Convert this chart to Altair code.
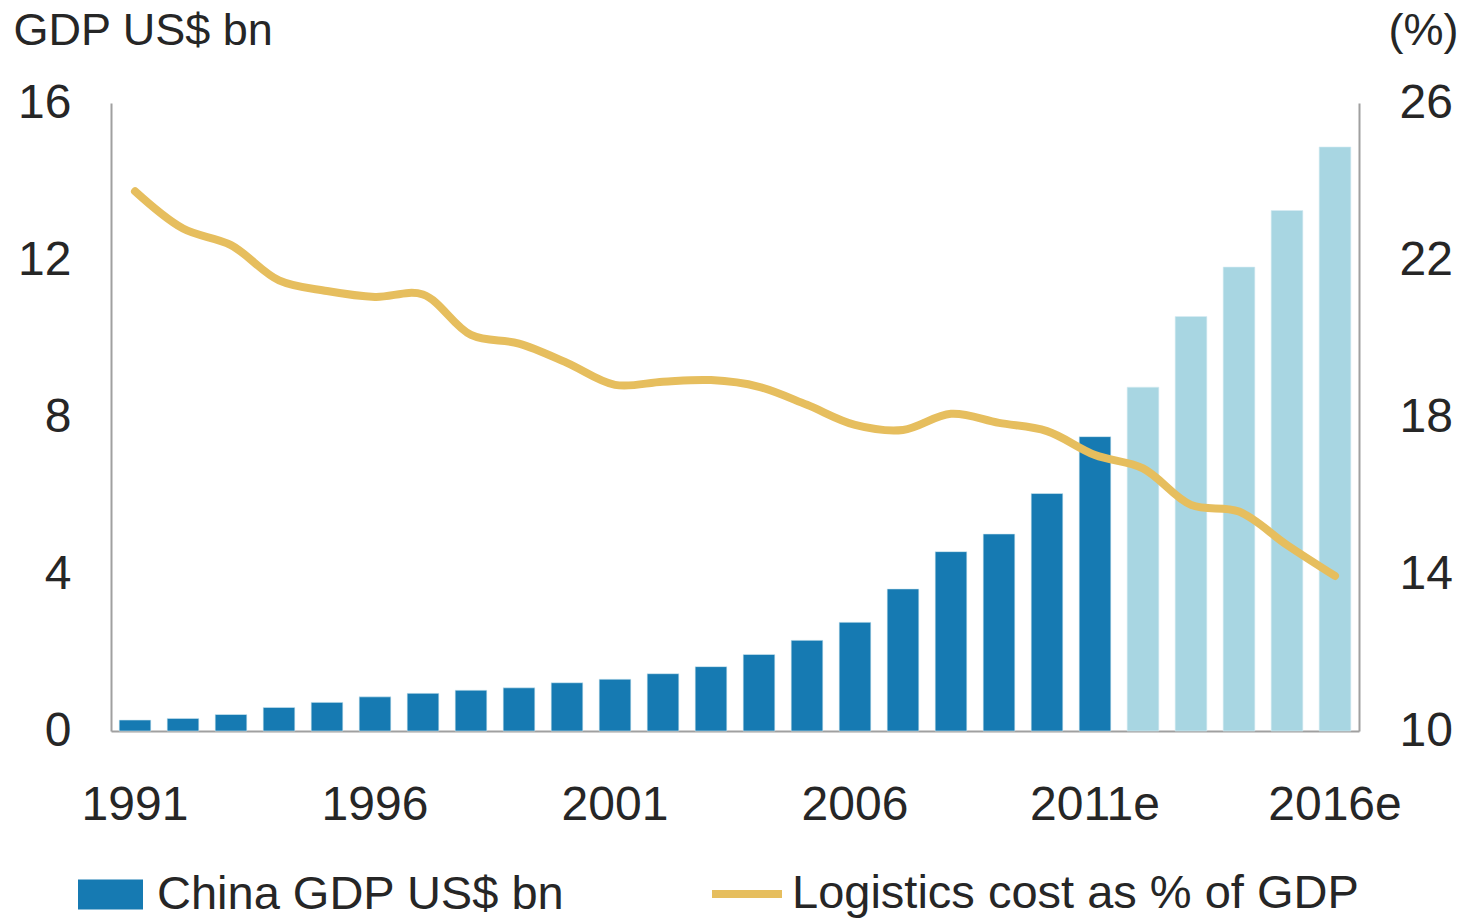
import altair as alt
import pandas as pd

years = ["1991", "1992", "1993", "1994", "1995", "1996", "1997", "1998", "1999", "2000",
         "2001", "2002", "2003", "2004", "2005", "2006", "2007", "2008", "2009", "2010",
         "2011e", "2012e", "2013e", "2014e", "2015e", "2016e"]
gdp = [0.28, 0.32, 0.42, 0.60, 0.73, 0.87, 0.96, 1.04, 1.10, 1.23,
       1.32, 1.46, 1.64, 1.95, 2.31, 2.77, 3.62, 4.57, 5.02, 6.05,
       7.50, 8.76, 10.56, 11.82, 13.26, 14.88]
logistics = [23.75, 22.80, 22.38, 21.48, 21.21, 21.06, 21.12, 20.09, 19.87, 19.38,
             18.82, 18.90, 18.94, 18.77, 18.31, 17.80, 17.67, 18.08, 17.85, 17.64,
             17.03, 16.69, 15.76, 15.59, 14.74, 13.95]
bar_type = ["China GDP US$ bn"] * 21 + ["Estimate"] * 5
x_ticks = ["1991", "1996", "2001", "2006", "2011e", "2016e"]
left_ticks = [0, 4, 8, 12, 16]
right_ticks = [10, 14, 18, 22, 26]

BAR_NAME = "China GDP US$ bn"
LINE_NAME = "Logistics cost as % of GDP"
DARK = "#167AB2"
LIGHT = "#A8D6E2"
GOLD = "#E6BE5E"
TEXT = "#262626"
AXIS = "#A0A0A0"
FONT = "Liberation Sans"

df = pd.DataFrame({
    "year": years,
    "gdp": gdp,
    "cost": logistics,
    "type": bar_type,
    "series": [LINE_NAME] * len(years),
})

x = alt.X(
    "year:N",
    sort=years,
    scale=alt.Scale(paddingInner=0.34, paddingOuter=0.17),
    axis=alt.Axis(
        values=x_ticks, title=None, labelAngle=0, ticks=False,
        labelFontSize=48, labelFont=FONT, labelColor=TEXT, labelPadding=50,
        domainColor=AXIS, domainWidth=2, labelBaseline="top",
    ),
)

bars = alt.Chart(df).mark_bar(stroke="#D6ECF4", strokeWidth=0.6).encode(
    x=x,
    y=alt.Y(
        "gdp:Q",
        scale=alt.Scale(domain=[0, 16], nice=False, zero=True),
        axis=alt.Axis(
            values=left_ticks, title="GDP US$ bn", titleAngle=0, titleAlign="left",
            titleBaseline="alphabetic", titleX=-98, titleY=-59, titleFontSize=45,
            titleFont=FONT, titleColor=TEXT, titleFontWeight="normal",
            ticks=False, grid=False, labelFontSize=48, labelFont=FONT, labelColor=TEXT,
            labelPadding=40, domainColor=AXIS, domainWidth=2, labelBaseline="middle",
        ),
    ),
    color=alt.Color(
        "type:N",
        scale=alt.Scale(domain=[BAR_NAME, "Estimate"], range=[DARK, LIGHT]),
        legend=alt.Legend(
            values=[BAR_NAME], title=None, orient="none", legendX=-33, legendY=759,
            symbolType="M-1,-0.46H1V0.46H-1Z", symbolSize=4225, symbolStrokeWidth=0,
            labelFontSize=47, labelFont=FONT, labelColor=TEXT, labelOffset=14,
            padding=0, labelLimit=800,
        ),
    ),
)

line = alt.Chart(df).mark_line(strokeWidth=8, interpolate="catmull-rom", strokeCap="round").encode(
    x=x,
    y=alt.Y(
        "cost:Q",
        scale=alt.Scale(domain=[10, 26], nice=False, zero=False),
        axis=alt.Axis(
            orient="right", values=right_ticks, title="(%)", titleAngle=0,
            titleAlign="right", titleBaseline="alphabetic", titleX=99, titleY=-59,
            titleFontSize=45, titleFont=FONT, titleColor=TEXT, titleFontWeight="normal",
            ticks=False, grid=False, labelFontSize=48, labelFont=FONT, labelColor=TEXT,
            labelPadding=40, domainColor=AXIS, domainWidth=2, labelBaseline="middle",
        ),
    ),
    stroke=alt.Stroke(
        "series:N",
        scale=alt.Scale(domain=[LINE_NAME], range=[GOLD]),
        legend=alt.Legend(
            title=None, orient="none", legendX=597, legendY=752,
            symbolType="stroke", symbolSize=4900, symbolStrokeWidth=8,
            labelFontSize=47, labelFont=FONT, labelColor=TEXT, labelOffset=6,
            padding=0, labelLimit=800,
        ),
    ),
)

chart = alt.layer(bars, line).resolve_scale(y="independent").properties(
    width=1248,
    height=628,
    background="white",
    autosize=alt.AutoSizeParams(type="none"),
    padding={"left": 111, "top": 103, "right": 109, "bottom": 189},
).configure_view(stroke=None)

chart.save("out.html", embed_options={"renderer": "svg", "actions": False})
